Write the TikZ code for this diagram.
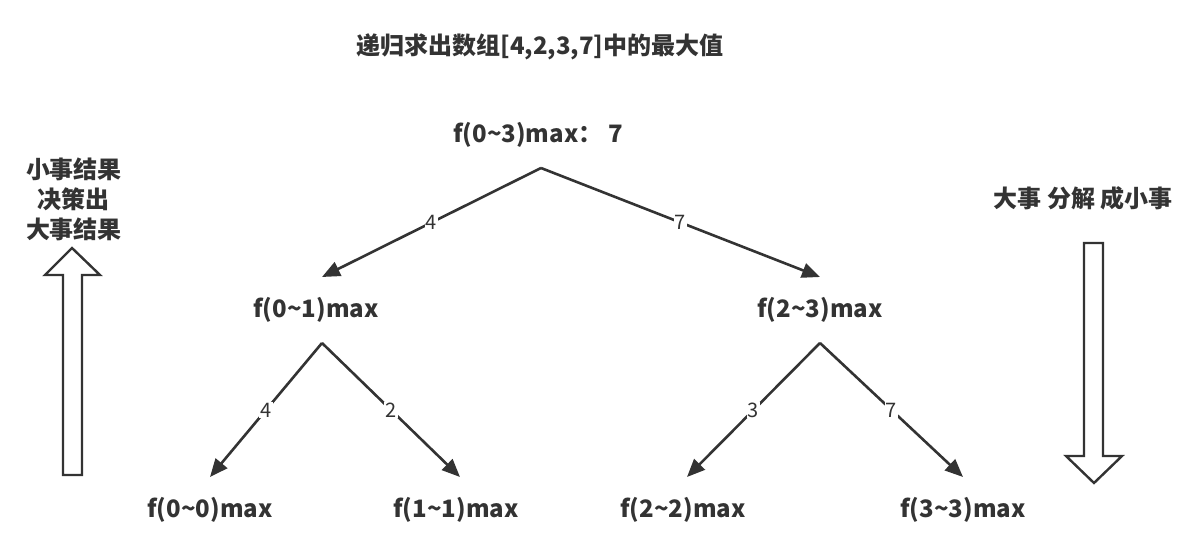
\documentclass[tikz,border=0pt]{standalone}
\usepackage{fontspec}
\setmainfont{Noto Sans CJK SC}
\usetikzlibrary{arrows.meta}
\definecolor{ink}{HTML}{333333}

\begin{document}
\begin{tikzpicture}[x=1pt,y=-1pt,
	every node/.style={text=ink,font=\bfseries\fontsize{24}{30}\selectfont},
	edge/.style={draw=ink,line width=2.6pt,-{Triangle[length=18pt,width=15pt]}},
	num/.style={fill=white,inner sep=1pt,font=\fontsize{20}{22}\selectfont},
	hollow/.style={draw=ink,line width=2.4pt,fill=white,line join=miter}]
	\useasboundingbox (0,0) rectangle (1192,545);

	\node (title) at (540,47) {递归求出数组[4,2,3,7]中的最大值};

	% tree
	\node (f03) at (538,135) {f(0\textasciitilde3)max： 7};
	\node (f01) at (316,310) {f(0\textasciitilde1)max};
	\node (f23) at (820,310) {f(2\textasciitilde3)max};
	\node (f00) at (210,510) {f(0\textasciitilde0)max};
	\node (f11) at (456,510) {f(1\textasciitilde1)max};
	\node (f22) at (683,510) {f(2\textasciitilde2)max};
	\node (f33) at (963,510) {f(3\textasciitilde3)max};

	\coordinate (r03) at (541,168);
	\coordinate (r01) at (322,343);
	\coordinate (r23) at (820,343);
	\coordinate (t01) at (322,277);
	\coordinate (t23) at (820,277);
	\coordinate (t00) at (210,477);
	\coordinate (t11) at (460,477);
	\coordinate (t22) at (687,477);
	\coordinate (t33) at (963,477);

	\draw[edge] (r03) -- node[num] {4} (t01);
	\draw[edge] (r03) -- node[num] {7} (t23);
	\draw[edge] (r01) -- node[num] {4} (t00);
	\draw[edge] (r01) -- node[num] {2} (t11);
	\draw[edge] (r23) -- node[num] {3} (t22);
	\draw[edge] (r23) -- node[num] {7} (t33);

	% side arrows
	\node[align=center] (up) at (74,199) {小事结果\\决策出\\大事结果};
	\draw[hollow] (63,475) -- (63,275) -- (45,275) -- (72,248) -- (100,275)
		-- (82,275) -- (82,475) -- cycle;

	\node (down) at (1083,198) {大事 分解 成小事};
	\draw[hollow] (1084,243) -- (1103,243) -- (1103,456) -- (1122,456) -- (1094,483)
		-- (1066,456) -- (1084,456) -- cycle;
\end{tikzpicture}
\end{document}
